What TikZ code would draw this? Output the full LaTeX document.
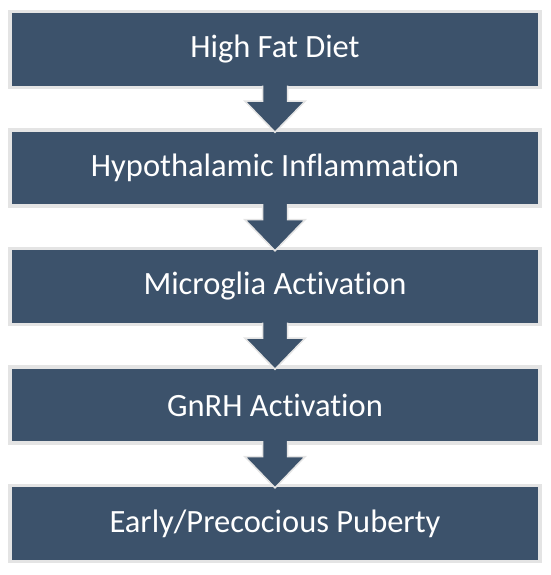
\documentclass[tikz,border=0pt]{standalone}
\usepackage{fontspec}
\setmainfont{Carlito}[Ligatures=NoCommon]
\usetikzlibrary{positioning,calc}
\definecolor{boxblue}{RGB}{60,82,107}
\definecolor{rimgrey}{RGB}{228,228,228}

\begin{document}
\begin{tikzpicture}[x=1pt,y=1pt,
        stage/.style={draw=rimgrey,line width=3.5pt,fill=boxblue,text=white,
          minimum width=530pt,minimum height=76pt,inner sep=0pt,
          font=\fontsize{32.5}{38}\selectfont},
        node distance=39pt]
      \useasboundingbox (0,0) rectangle (550,575);
      \node (diet) [stage] at (275,525.5) {High Fat Diet};
      \node (inflam) [stage, below=of diet] {Hypothalamic Inflammation};
      \node (microglia) [stage, below=of inflam] {Microglia Activation};
      \node (gnrh) [stage, below=of microglia] {GnRH Activation};
      \node (puberty) [stage, below=of gnrh] {Early/Precocious Puberty};
      % block arrows between the stages
      \foreach \from/\to in {diet/inflam, inflam/microglia, microglia/gnrh, gnrh/puberty}
        \filldraw[fill=boxblue, draw=rimgrey, line width=1.5pt, line join=miter]
          ($(\from.south)+(-12.5,3.5)$) -- ($(\from.south)+(-12.5,-12)$)
          -- ($(\from.south)+(-30,-12)$) -- ($(\to.north)+(0,-4)$)
          -- ($(\from.south)+(30,-12)$) -- ($(\from.south)+(12.5,-12)$)
          -- ($(\from.south)+(12.5,3.5)$);
    \end{tikzpicture}
\end{document}
